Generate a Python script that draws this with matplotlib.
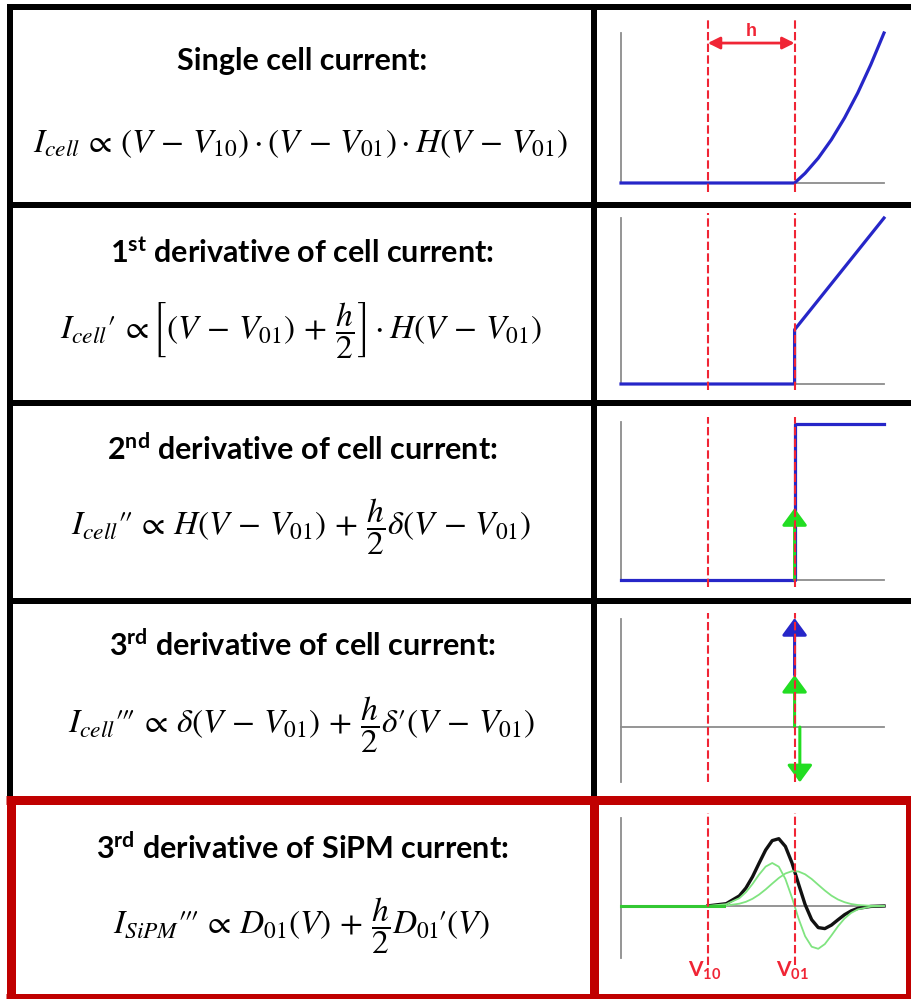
import numpy as np
import matplotlib
matplotlib.use('Agg')
import matplotlib.pyplot as plt

plt.rcParams['mathtext.fontset'] = 'custom'
plt.rcParams['mathtext.rm'] = 'Lato'
plt.rcParams['mathtext.bf'] = 'Lato:bold'
plt.rcParams['mathtext.it'] = 'Lato:italic'

# --- data (V axis: 0 .. 10, V10 and V01 marked) ---
V10 = 3.3
V01 = 6.6

# single cell current (V >= V01)
i_cell_v = [0.0, 6.6, 7.0, 7.5, 8.0, 8.5, 9.0, 9.5, 10.0]
i_cell_y = [0.0, 0.0, 0.65, 1.66, 2.89, 4.34, 6.0, 7.9, 10.0]

# 1st derivative
d1_v = [0.0, 6.6, 6.6, 10.0]
d1_y = [0.0, 0.0, 3.27, 10.0]

# 2nd derivative
d2_v = [0.0, 6.6, 6.6, 10.0]
d2_y = [0.0, 0.0, 9.9, 9.9]
d2_delta = 4.55

# 3rd derivative: delta (blue), h/2 delta' (green up / down)
d3_blue = (3.3, 6.9)
d3_green_up = 3.3
d3_green_down = -3.5

# SiPM 3rd derivative
sipm_v = [0.0, 3.3, 4.0, 4.5, 4.75, 5.0, 5.25, 5.5, 5.75, 6.0, 6.25, 6.5, 6.75,
          7.0, 7.25, 7.5, 7.75, 8.0, 8.25, 8.5, 8.75, 9.0, 9.5, 10.0]
gauss_y = [0.0, 0.0, 0.05, 0.23, 0.42, 0.72, 1.14, 1.66, 2.24, 2.80, 3.25, 3.48, 3.45,
           3.17, 2.70, 2.12, 1.55, 1.04, 0.65, 0.38, 0.20, 0.10, 0.02, 0.0]
dgauss_y = [0.0, 0.01, 0.18, 0.78, 1.38, 2.20, 3.14, 3.94, 4.30, 3.93, 2.71, 0.84, -1.25,
            -3.02, -4.07, -4.28, -3.81, -2.95, -2.03, -1.25, -0.69, -0.34, -0.06, 0.0]
sipm_black_v = sipm_v[1:]
sipm_black_y = [0.01, 0.23, 1.01, 1.80, 2.92, 4.28, 5.60, 6.54, 6.73, 5.96, 4.32, 2.20,
                0.15, -1.37, -2.16, -2.26, -1.91, -1.38, -0.87, -0.49, -0.24, -0.04, 0.0]

titles = [
    'Single cell current:',
    r'1$^{\mathbf{st}}$ derivative of cell current:',
    r'2$^{\mathbf{nd}}$ derivative of cell current:',
    r'3$^{\mathbf{rd}}$ derivative of cell current:',
    r'3$^{\mathbf{rd}}$ derivative of SiPM current:',
]
formulas = [
    r'$I_{cell}\,\propto\,(V\,-\,V_{10})\cdot(V\,-\,V_{01})\cdot H(V\,-\,V_{01})$',
    r'$I_{cell}\prime\,\propto\left[(V\,-\,V_{01})\,+\,\dfrac{h}{2}\right]\cdot H(V\,-\,V_{01})$',
    r'$I_{cell}\prime\!\prime\,\propto\,H(V\,-\,V_{01})\,+\,\dfrac{h}{2}\delta(V\,-\,V_{01})$',
    r'$I_{cell}\prime\!\prime\!\prime\,\propto\,\delta(V\,-\,V_{01})\,+\,\dfrac{h}{2}\delta\prime(V\,-\,V_{01})$',
    r'$I_{SiPM}\prime\!\prime\!\prime\,\propto\,D_{01}(V)\,+\,\dfrac{h}{2}D_{01}\!\prime(V)$',
]

W, H = 911, 999
BLUE = '#2626c8'
RED = '#f02535'
GREEN = '#22dd22'
LGREEN = '#80e480'
GRAY = '#8c8c8c'
DARKRED = '#c00000'
PX = 72 / 100  # points per pixel

fig = plt.figure(figsize=(W / 100, H / 100), dpi=100)
bg = fig.add_axes([0, 0, 1, 1])
bg.set_xlim(0, W)
bg.set_ylim(H, 0)
bg.axis('off')

# table borders
blk = dict(color='black', lw=6 * PX, solid_capstyle='butt')
bg.plot([7, W], [6.5, 6.5], **blk)
for y in [205, 403, 601]:
    bg.plot([10, W], [y, y], **blk)
bg.plot([10, 10], [4, 800], **blk)
bg.plot([594, 594], [4, 800], **blk)
red = dict(color=DARKRED, lw=9 * PX, solid_capstyle='butt')
bg.plot([6, W], [800, 800], **red)
bg.plot([10.5, 10.5], [796, H], **red)
bg.plot([593.5, 593.5], [796, H], **red)
bg.plot([6, W], [998, 998], **red)
bg.plot([910, 910], [796, H], **red)

title_y = [61, 253, 449, 645, 848]
formula_y = [143, 331, 527, 725, 926]
for t, ty, f, fy in zip(titles, title_y, formulas, formula_y):
    bg.text(302, ty, t, ha='center', va='center', fontsize=22,
            fontweight='bold', family='Lato', math_fontfamily='custom')
    bg.text(301, fy, f, ha='center', va='center', fontsize=24,
            math_fontfamily='stix')


def mini_axes(top, bottom, ylo, yhi):
    ax = fig.add_axes([621 / W, 1 - bottom / H, (884 - 621) / W, (bottom - top) / H])
    ax.set_xlim(0, 10)
    ax.set_ylim(ylo, yhi)
    ax.axis('off')
    ax.plot([0, 0], [ylo, yhi], color=GRAY, lw=1.3, clip_on=False)
    ax.plot([0, 10], [0, 0], color=GRAY, lw=1.3, clip_on=False)
    return ax


def dashed(ax, y0, y1):
    for v in [V10, V01]:
        ax.plot([v, v], [y0, y1], color=RED, lw=1.5, ls=(0, (4, 1.6)),
                clip_on=False, zorder=5)


def arrow(ax, x, y0, y1, color):
    ax.annotate('', xy=(x, y1), xytext=(x, y0), annotation_clip=False,
                arrowprops=dict(arrowstyle='-|>,head_length=0.75,head_width=0.55',
                                mutation_scale=14, color=color, lw=2.2,
                                shrinkA=0, shrinkB=0), zorder=4)


# row 1
ax = mini_axes(33, 183, 0, 10)
ax.plot(i_cell_v, i_cell_y, color=BLUE, lw=2.3, clip_on=False)
dashed(ax, -0.6, 11)
ax.annotate('', xy=(V10, 9.33), xytext=(V01, 9.33), annotation_clip=False,
            arrowprops=dict(arrowstyle='<|-|>,head_length=0.6,head_width=0.3',
                            mutation_scale=12, color=RED, lw=2, shrinkA=0, shrinkB=0))
ax.text((V10 + V01) / 2, 10.1, 'h', color=RED, fontsize=13, fontweight='bold',
        family='Liberation Sans', ha='center', va='center')

# row 2
ax = mini_axes(218, 384, 0, 10)
ax.plot(d1_v, d1_y, color=BLUE, lw=2.3, clip_on=False)
dashed(ax, -0.36, 10.3)

# row 3
ax = mini_axes(422, 580, 0, 10)
ax.plot(d2_v, d2_y, color=BLUE, lw=2.3, clip_on=False)
arrow(ax, V01, 0, d2_delta, GREEN)
dashed(ax, -0.44, 10.3)

# row 4
ax = mini_axes(619, 782, -3.48, 6.84)
arrow(ax, V01, d3_blue[0], d3_blue[1], BLUE)
arrow(ax, V01, 0, d3_green_up, GREEN)
arrow(ax, 6.8, 0, d3_green_down, GREEN)
dashed(ax, -3.48, 7.2)

# row 5
ax = mini_axes(818, 958, -5.2, 8.8)
ax.plot(sipm_black_v, sipm_black_y, color='#111111', lw=2.4, clip_on=False, zorder=3)
ax.plot(sipm_v, gauss_y, color=LGREEN, lw=1.3, clip_on=False, zorder=3)
ax.plot(sipm_v, dgauss_y, color=LGREEN, lw=1.3, clip_on=False, zorder=3)
ax.plot([0, V10 + 0.6], [0, 0], color='#33c833', lw=2.2, clip_on=False, zorder=3)
dashed(ax, -5.9, 9.3)
for v, lab in [(V10, r'$\mathbf{V_{10}}$'), (V01, r'$\mathbf{V_{01}}$')]:
    ax.text(v - 0.1, -6.5, lab, color=RED, fontsize=15, ha='center', va='center',
            math_fontfamily='custom')

fig.savefig('out.png', dpi=100)
